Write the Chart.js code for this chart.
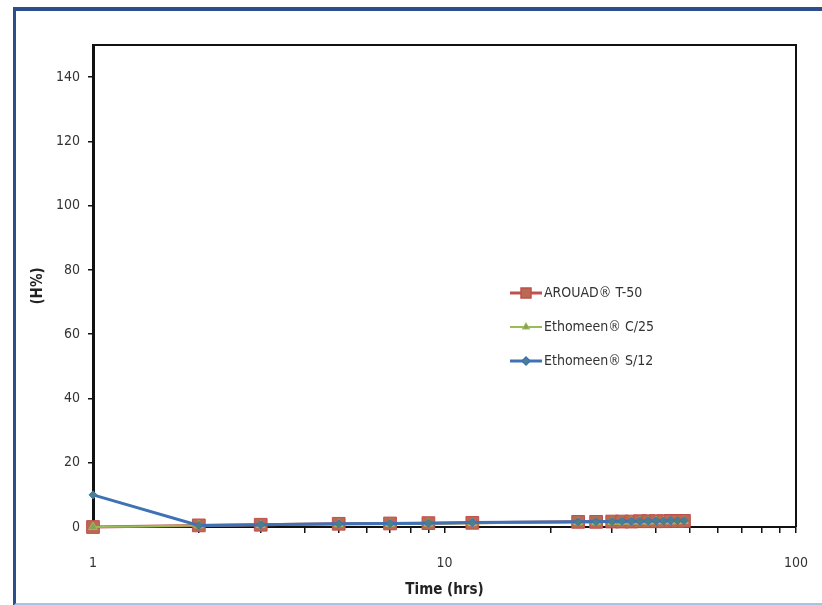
<!DOCTYPE html>
<html>
<head>
<meta charset="utf-8">
<script src="https://cdn.jsdelivr.net/npm/chart.js@4.4.1/dist/chart.umd.min.js"></script>
<style>
  html, body { margin: 0; padding: 0; background: #fff; }
  #wrap { position: relative; width: 822px; height: 605px; overflow: hidden; }
  #frame {
    position: absolute; left: 13px; top: 7px; width: 830px; height: 592px;
    border-left: 3px solid #2c4f8c; border-top: 4px solid #2c4f8c;
    border-bottom: 3px solid #a9c3e6; pointer-events: none;
  }
  canvas { position: absolute; left: 0; top: 0; }
</style>
</head>
<body>
<div id="wrap">
  <canvas id="chart" width="822" height="605"></canvas>
  <div id="frame"></div>
</div>
<script>
// sample times (hrs)
const times = [1, 2, 3, 5, 7, 9, 12, 24, 27, 30, 32, 34, 36, 38, 40, 42, 44, 46, 48];

// inhibition (H%) per series
const arquadT50 = [0, 0.5, 0.7, 1.0, 1.1, 1.2, 1.3, 1.6, 1.6, 1.7, 1.7, 1.7, 1.8, 1.8, 1.8, 1.8, 1.9, 1.9, 1.9];
const ethomeenC25 = [0, 0.5, 0.6, 0.9, 1.0, 1.1, 1.2, 1.5, 1.5, 1.6, 1.6, 1.7, 1.7, 1.7, 1.8, 1.8, 1.8, 1.8, 1.9];
const ethomeenS12 = [10, 0.5, 0.7, 1.0, 1.1, 1.2, 1.4, 1.6, 1.7, 1.7, 1.8, 1.8, 1.8, 1.9, 1.9, 1.9, 2.0, 2.0, 2.0];

const seriesLabels = ["AROUAD\u00AE T-50", "Ethomeen\u00AE C/25", "Ethomeen\u00AE S/12"];

// axis ticks
const xTickMarks = [1, 2, 3, 4, 5, 6, 7, 8, 9, 10, 20, 30, 40, 50, 60, 70, 80, 90, 100];
const xTickLabels = [1, 10, 100];
const yTickLabels = [0, 20, 40, 60, 80, 100, 120, 140];

const FONT = "'Liberation Sans Narrow', 'DejaVu Sans Condensed', 'Noto Sans', sans-serif";

const toPoints = (vals) => vals.map((v, i) => ({ x: times[i], y: v }));

// draw the legend inside the plot + box on top/right
const insideLegend = {
  id: "insideLegend",
  afterDraw(chart) {
    const { ctx, chartArea } = chart;
    ctx.save();
    ctx.strokeStyle = "#111";
    ctx.lineWidth = 2;
    ctx.beginPath();
    ctx.moveTo(chartArea.left, chartArea.top);
    ctx.lineTo(chartArea.right, chartArea.top);
    ctx.lineTo(chartArea.right, chartArea.bottom);
    ctx.stroke();

    const x0 = 510;
    const y0 = 293;
    chart.data.datasets.forEach((ds, i) => {
      const y = y0 + i * 34;
      ctx.strokeStyle = ds.borderColor;
      ctx.lineWidth = ds.borderWidth;
      ctx.beginPath();
      ctx.moveTo(x0, y);
      ctx.lineTo(x0 + 32, y);
      ctx.stroke();
      Chart.helpers.drawPoint(ctx, {
        pointStyle: ds.pointStyle,
        radius: ds.legendRadius,
        borderWidth: 1
      }, x0 + 16, y);
      ctx.fillStyle = ds.pointBackgroundColor;
      ctx.strokeStyle = ds.pointBorderColor;
      ctx.fill();
      ctx.fillStyle = "#333";
      ctx.font = "14px " + FONT;
      ctx.textBaseline = "middle";
      ctx.fillText(ds.label, x0 + 34, y);
    });
    ctx.restore();
  }
};

new Chart(document.getElementById("chart"), {
  type: "line",
  data: {
    datasets: [
      {
        label: seriesLabels[0],
        data: toPoints(arquadT50),
        borderColor: "#c0504d",
        borderWidth: 3,
        pointStyle: "rect",
        pointRadius: 9,
        legendRadius: 6,
        pointBackgroundColor: "#b86a52",
        pointBorderColor: "#c0504d",
        pointBorderWidth: 1,
        clip: false,
        order: 2
      },
      {
        label: seriesLabels[1],
        data: toPoints(ethomeenC25),
        borderColor: "#9bbb59",
        borderWidth: 2,
        pointStyle: "triangle",
        pointRadius: 5,
        legendRadius: 3,
        pointBackgroundColor: "#8a9f5a",
        pointBorderColor: "#9bbb59",
        pointBorderWidth: 1,
        clip: false,
        order: 1
      },
      {
        label: seriesLabels[2],
        data: toPoints(ethomeenS12),
        borderColor: "#3f72b5",
        borderWidth: 3,
        pointStyle: "rectRot",
        pointRadius: 4,
        legendRadius: 3,
        pointBackgroundColor: "#4c7f8a",
        pointBorderColor: "#3f72b5",
        pointBorderWidth: 1,
        clip: false,
        order: 0
      }
    ]
  },
  options: {
    responsive: false,
    animation: false,
    events: [],
    layout: { padding: { left: 20, top: 45, right: 26, bottom: 0 } },
    plugins: {
      legend: { display: false },
      tooltip: { enabled: false }
    },
    elements: { line: { tension: 0 } },
    scales: {
      x: {
        type: "logarithmic",
        min: 1,
        max: 100,
        afterBuildTicks(scale) {
          scale.ticks = xTickMarks.map((v) => ({ value: v }));
        },
        afterFit(scale) {
          scale.height = 78;
          scale.paddingLeft = 0;
          scale.paddingRight = 0;
        },
        ticks: {
          autoSkip: false,
          maxRotation: 0,
          padding: 22,
          color: "#333",
          font: { family: FONT, size: 14 },
          callback: (v) => (xTickLabels.includes(v) ? String(v) : "")
        },
        grid: {
          drawOnChartArea: false,
          drawTicks: true,
          tickLength: 6,
          color: "#111",
          lineWidth: 1.5
        },
        border: { color: "#111", width: 2 },
        title: {
          display: true,
          text: "Time (hrs)",
          color: "#222",
          font: { family: FONT, size: 15, weight: "bold" },
          padding: { top: 0, bottom: 6 }
        }
      },
      y: {
        min: 0,
        max: 150,
        afterBuildTicks(scale) {
          scale.ticks = yTickLabels.map((v) => ({ value: v }));
        },
        afterFit(scale) { scale.width = 73; },
        ticks: {
          padding: 8,
          color: "#333",
          font: { family: FONT, size: 14 }
        },
        grid: {
          drawOnChartArea: false,
          drawTicks: true,
          tickLength: 5,
          color: "#111",
          lineWidth: 1.5
        },
        border: { color: "#111", width: 3 },
        title: {
          display: true,
          text: "(H%)",
          color: "#222",
          font: { family: FONT, size: 15, weight: "bold" },
          padding: { top: 9, bottom: 0 }
        }
      }
    }
  },
  plugins: [insideLegend]
});
</script>
</body>
</html>
